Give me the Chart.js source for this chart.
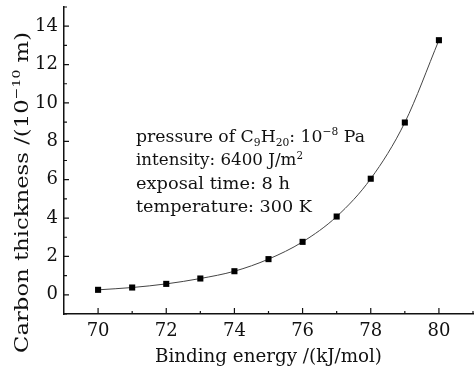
<!DOCTYPE html>
<html>
<head>
<meta charset="utf-8">
<script src="https://cdn.jsdelivr.net/npm/chart.js@4"></script>
<style>
  html, body { margin: 0; padding: 0; background: #fff; }
  #wrap { width: 474px; height: 371px; }
</style>
</head>
<body>
<div id="wrap"><canvas id="ctx"></canvas></div>
<script>
// chart data
const bindingEnergy = [70, 71, 72, 73, 74, 75, 76, 77, 78, 79, 80];
const carbonThickness = [0.26, 0.38, 0.57, 0.85, 1.23, 1.86, 2.76, 4.08, 6.05, 8.98, 13.27];
const xTickLabels = [70, 72, 74, 76, 78, 80];
const yTickLabels = [0, 2, 4, 6, 8, 10, 12, 14];
const xMinorTicks = [71, 73, 75, 77, 79, 81];
const yMinorTicks = [-1, 1, 3, 5, 7, 9, 11, 13, 15];

const FONT = '"DejaVu Serif", "Liberation Serif", serif';

// draw text pieces (normal / sub / sup), squeezed or stretched to a target width
function drawRich(ctx, parts, x, y, size, target) {
  const fontFor = p => ((p.sup || p.sub) ? size * 0.62 : size) + 'px ' + FONT;
  let w = 0;
  parts.forEach(p => { ctx.font = fontFor(p); w += ctx.measureText(p.t).width; });
  const k = target ? target / w : 1;
  ctx.save();
  ctx.translate(x, y);
  ctx.scale(k, 1);
  let cx = 0;
  parts.forEach(p => {
    let dy = 0;
    if (p.sup) dy = -size * 0.4;
    if (p.sub) dy = size * 0.22;
    ctx.font = fontFor(p);
    ctx.fillText(p.t, cx, dy);
    cx += ctx.measureText(p.t).width;
  });
  ctx.restore();
}

const extras = {
  id: 'extras',
  afterDraw(chart) {
    const ctx = chart.ctx;
    const xs = chart.scales.x, ys = chart.scales.y;
    const area = chart.chartArea;
    ctx.save();
    ctx.strokeStyle = '#111';
    ctx.lineWidth = 1.2;
    // inward tick marks
    ctx.beginPath();
    xTickLabels.forEach(v => { const px = xs.getPixelForValue(v); ctx.moveTo(px, area.bottom); ctx.lineTo(px, area.bottom - 6); });
    xMinorTicks.forEach(v => { const px = xs.getPixelForValue(v); ctx.moveTo(px, area.bottom); ctx.lineTo(px, area.bottom - 3); });
    yTickLabels.forEach(v => { const py = ys.getPixelForValue(v); ctx.moveTo(area.left, py); ctx.lineTo(area.left + 5, py); });
    yMinorTicks.forEach(v => { const py = ys.getPixelForValue(v); ctx.moveTo(area.left, py); ctx.lineTo(area.left + 3, py); });
    ctx.stroke();

    ctx.fillStyle = '#111';
    ctx.textBaseline = 'alphabetic';
    ctx.textAlign = 'left';
    // annotation block
    const ax = 136, ay = 142, lh = 23.3, fs = 17;
    drawRich(ctx, [{t: 'pressure of C'}, {t: '9', sub: true}, {t: 'H'}, {t: '20', sub: true}, {t: ': 10'}, {t: '\u22128', sup: true}, {t: ' Pa'}], ax, ay, fs, 229);
    drawRich(ctx, [{t: 'intensity: 6400 J/m'}, {t: '2', sup: true}], ax, ay + lh, fs, 167);
    drawRich(ctx, [{t: 'exposal time: 8 h'}], ax, ay + lh * 2, fs, 154);
    drawRich(ctx, [{t: 'temperature: 300 K'}], ax, ay + lh * 3, fs, 176);

    // x axis title
    const midX = (area.left + area.right) / 2;
    drawRich(ctx, [{t: 'Binding energy /(kJ/mol)'}], midX - 113.5, 362, 19, 227);

    // y axis title, rotated
    ctx.save();
    ctx.translate(28, 353);
    ctx.rotate(-Math.PI / 2);
    drawRich(ctx, [{t: 'Carbon thickness /(10'}, {t: '\u221210', sup: true}, {t: ' m)'}], 0, 0, 19, 321);
    ctx.restore();
    ctx.restore();
  }
};

const noPad = s => { s.paddingLeft = 0; s.paddingRight = 0; s.paddingTop = 0; s.paddingBottom = 0; };

new Chart(document.getElementById('ctx'), {
  type: 'line',
  data: {
    datasets: [{
      data: bindingEnergy.map((x, i) => ({ x: x, y: carbonThickness[i] })),
      borderColor: '#444',
      borderWidth: 1,
      tension: 0.4,
      cubicInterpolationMode: 'monotone',
      pointStyle: 'rect',
      pointRadius: 4.3,
      pointBackgroundColor: '#000',
      pointBorderColor: '#000',
      pointBorderWidth: 0
    }]
  },
  options: {
    responsive: true,
    maintainAspectRatio: false,
    animation: false,
    events: [],
    layout: { autoPadding: false, padding: { top: 7, right: 1, left: 0, bottom: 0 } },
    plugins: { legend: { display: false }, tooltip: { enabled: false } },
    scales: {
      x: {
        type: 'linear',
        min: 69,
        max: 81,
        afterBuildTicks: s => { s.ticks = xTickLabels.map(v => ({ value: v })); },
        afterFit: s => { s.height = 57; noPad(s); },
        grid: { display: false, drawTicks: false },
        border: { display: true, color: '#111', width: 1.5 },
        ticks: { color: '#111', padding: 7, maxRotation: 0, font: { family: FONT, size: 18 } }
      },
      y: {
        min: -1,
        max: 15,
        afterBuildTicks: s => { s.ticks = yTickLabels.map(v => ({ value: v })); },
        afterFit: s => { s.width = 64; noPad(s); },
        grid: { display: false, drawTicks: false },
        border: { display: true, color: '#111', width: 1.5 },
        ticks: { color: '#111', padding: 6, font: { family: FONT, size: 18 } }
      }
    }
  },
  plugins: [extras]
});
</script>
</body>
</html>
